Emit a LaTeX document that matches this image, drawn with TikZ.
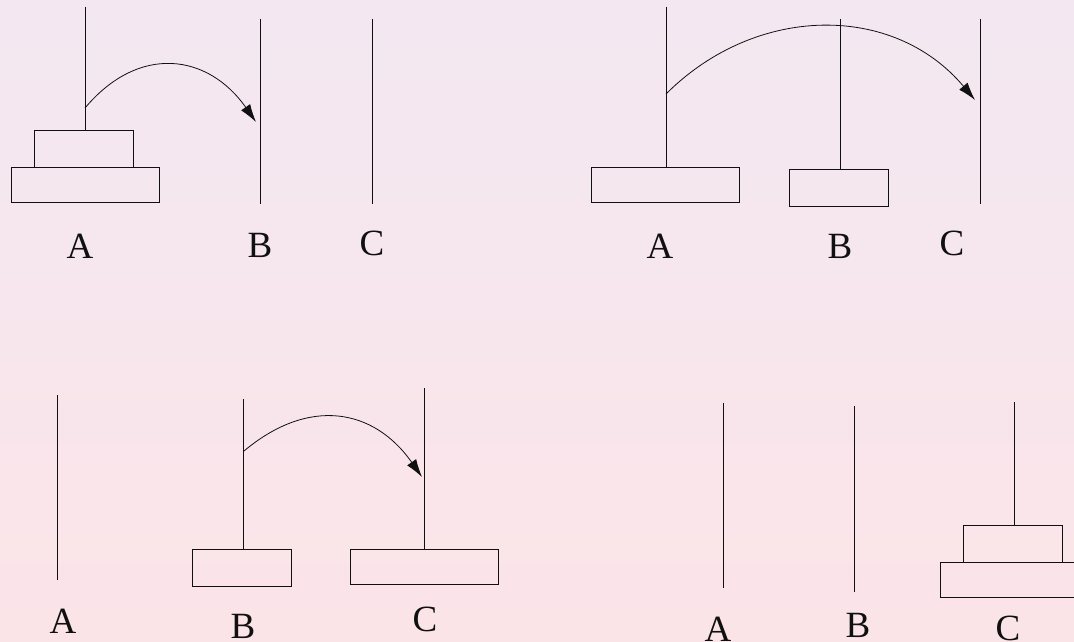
\documentclass[tikz,border=0pt]{standalone}
\usepackage{fontspec}
\setmainfont{Liberation Serif}
\usepackage{tikz}
\usetikzlibrary{arrows.meta,positioning,calc}
\definecolor{cBgTop}{HTML}{F3E8F1}
\definecolor{cBgBot}{HTML}{FBE4E8}
\definecolor{cInk}{HTML}{101010}

\begin{document}
\begin{tikzpicture}[
  x=1pt,y=-1pt,
  peg/.style={line width=1pt,color=cInk},
  disk/.style={draw=cInk,line width=1pt,rectangle,inner sep=0pt,
               minimum height=35pt},
  bigdisk/.style={disk,minimum width=148pt},
  smalldisk/.style={disk,minimum width=99pt,minimum height=37pt},
  move/.style={-{Latex[length=18pt,width=11pt]},line width=0.8pt,color=cInk},
  lbl/.style={anchor=base,inner sep=0pt,font=\fontsize{37}{40}\selectfont,text=cInk},
]

% background
\fill[top color=cBgTop,bottom color=cBgBot] (0,0) rectangle (1074,642);
\useasboundingbox (0,0) rectangle (1074,642);

% ====================================================== step 1: A -> B
\node[bigdisk]   (d1L) at (85,184.5) {};
\node[smalldisk] (d1S) at (84,148.5) {};
\coordinate (tA1) at (85,7);
\coordinate (tB1) at (260,19);
\coordinate (tC1) at (372,19);
\draw[peg] (tA1) -- (tA1 |- d1S.north);
\draw[peg] (tB1) -- ++(0,185);
\draw[peg] (tC1) -- ++(0,185);
\coordinate (s1) at (85,108);
\coordinate (e1) at (256,122);
\draw[move] (s1) to[out=50,in=125,looseness=1.25] (e1);
\node[lbl] (A1) at (80,258) {A};
\node[lbl] (B1) at (260,257) {B};
\node[lbl] (C1) at (372,255) {C};

% ====================================================== step 2: A -> C
\node[bigdisk]   (d2A) at (665,184.5) {};
\node[smalldisk] (d2B) at (838.5,187.5) {};
\coordinate (tA2) at (666,7);
\coordinate (tB2) at (840,19);
\coordinate (tC2) at (980,19);
\draw[peg] (tA2) -- (tA2 |- d2A.north);
\draw[peg] (tB2) -- (tB2 |- d2B.north);
\draw[peg] (tC2) -- ++(0,185);
\coordinate (s2) at (666,94);
\coordinate (e2) at (975,100);
\draw[move] (s2) to[out=45,in=130,looseness=1.05] (e2);
\node[lbl] (A2) at (660,258) {A};
\node[lbl] (B2) at (840,258) {B};
\node[lbl] (C2) at (952,255) {C};

% ====================================================== step 3: B -> C
\node[smalldisk] (d3B) at (241.5,567.5) {};
\node[bigdisk]   (d3C) at (424,566.5) {};
\coordinate (tA3) at (57,395);
\coordinate (tB3) at (243.5,399);
\coordinate (tC3) at (424,388);
\draw[peg] (tA3) -- ++(0,185);
\draw[peg] (tB3) -- (tB3 |- d3B.north);
\draw[peg] (tC3) -- (tC3 |- d3C.north);
\coordinate (s3) at (244,451);
\coordinate (e3) at (422,477);
\draw[move] (s3) to[out=40,in=125,looseness=1.2] (e3);
\node[lbl] (A3) at (63,633) {A};
\node[lbl] (B3) at (243,638) {B};
\node[lbl] (C3) at (425,631) {C};

% ====================================================== step 4: done
\node[bigdisk]   (d4L) at (1014,579.5) {};
\node[smalldisk] (d4S) at (1012.5,543.5) {};
\coordinate (tA4) at (723,403);
\coordinate (tB4) at (854,406);
\coordinate (tC4) at (1014,402);
\draw[peg] (tA4) -- ++(0,185);
\draw[peg] (tB4) -- ++(0,186);
\draw[peg] (tC4) -- (tC4 |- d4S.north);
\node[lbl] (A4) at (718,641) {A};
\node[lbl] (B4) at (858,637) {B};
\node[lbl] (C4) at (1008,640) {C};

\end{tikzpicture}
\end{document}
